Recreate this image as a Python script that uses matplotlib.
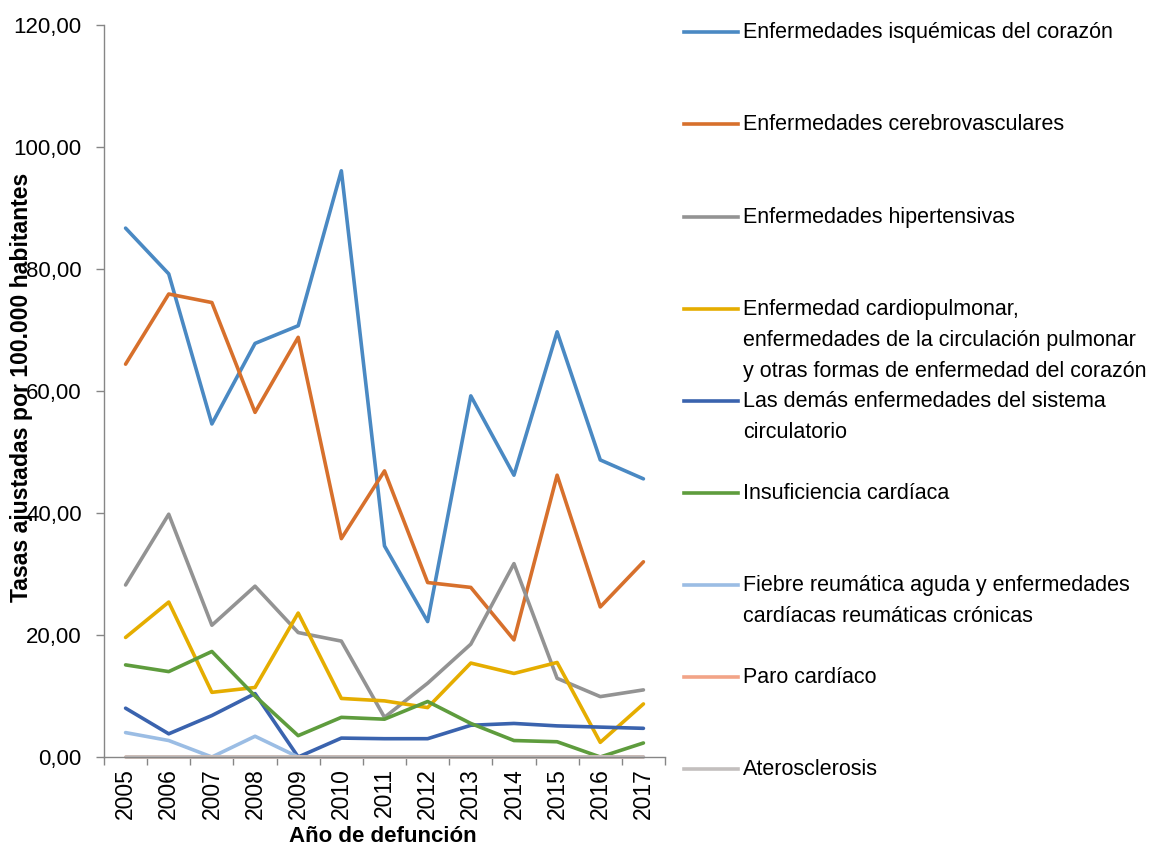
import matplotlib
matplotlib.use("Agg")
import matplotlib.pyplot as plt
from matplotlib import font_manager
from matplotlib.lines import Line2D
from matplotlib.ticker import FixedLocator, FuncFormatter

years = ["2005", "2006", "2007", "2008", "2009", "2010", "2011",
         "2012", "2013", "2014", "2015", "2016", "2017"]

series_names = [
    "Enfermedades isquémicas del corazón",
    "Enfermedades cerebrovasculares",
    "Enfermedades hipertensivas",
    "Enfermedad cardiopulmonar,\nenfermedades de la circulación pulmonar\ny otras formas de enfermedad del corazón",
    "Las demás enfermedades del sistema\ncirculatorio",
    "Insuficiencia cardíaca",
    "Fiebre reumática aguda y enfermedades\ncardíacas reumáticas crónicas",
    "Paro cardíaco",
    "Aterosclerosis",
]

isquemicas = [86.7, 79.2, 54.6, 67.8, 70.7, 96.1, 34.6, 22.2, 59.2, 46.2, 69.7, 48.7, 45.6]
cerebrovasculares = [64.4, 75.9, 74.5, 56.5, 68.8, 35.8, 46.9, 28.6, 27.8, 19.2, 46.2, 24.6, 32.0]
hipertensivas = [28.2, 39.8, 21.6, 28.0, 20.4, 19.0, 6.5, 12.1, 18.5, 31.7, 12.9, 9.9, 11.0]
cardiopulmonar = [19.6, 25.4, 10.6, 11.4, 23.6, 9.6, 9.2, 8.1, 15.4, 13.7, 15.5, 2.4, 8.7]
demas_circulatorio = [8.0, 3.8, 6.8, 10.4, 0.0, 3.1, 3.0, 3.0, 5.2, 5.5, 5.1, 4.9, 4.7]
insuficiencia = [15.1, 14.0, 17.3, 10.0, 3.5, 6.5, 6.2, 9.1, 5.5, 2.7, 2.5, 0.0, 2.3]
fiebre_reumatica = [4.0, 2.7, 0.0, 3.4, 0.0, 0.0, 0.0, 0.0, 0.0, 0.0, 0.0, 0.0, 0.0]
paro_cardiaco = [0.0] * 13
aterosclerosis = [0.0] * 13

all_series = [isquemicas, cerebrovasculares, hipertensivas, cardiopulmonar,
              demas_circulatorio, insuficiencia, fiebre_reumatica,
              paro_cardiaco, aterosclerosis]
colors = ["#4A89C3", "#D7702C", "#939393", "#E5AD00", "#3A63AE",
          "#5E9C3D", "#9BBDE4", "#F2A487", "#C3BFBE"]

y_ticks = [0, 20, 40, 60, 80, 100, 120]


def pick_font(cands):
    for c in cands:
        try:
            font_manager.findfont(c, fallback_to_default=False)
            return c
        except Exception:
            pass
    return "DejaVu Sans"


arial = pick_font(["Liberation Sans", "Arial"])
narrow = pick_font(["Liberation Sans Narrow", "Arial Narrow", "Liberation Sans"])

W, H = 1154, 848
fig = plt.figure(figsize=(W / 100, H / 100), dpi=100)
ax = fig.add_axes([104 / W, 1 - 757 / H, (665 - 104) / W, (757 - 25) / H])

x = list(range(len(years)))
for vals, col in zip(all_series, colors):
    ax.plot(x, vals, color=col, lw=2.6, solid_joinstyle="round",
            solid_capstyle="round", clip_on=False)

ax.set_xlim(-0.5, len(years) - 0.5)
ax.set_ylim(0, 120)
ax.set_yticks(y_ticks)
ax.yaxis.set_major_formatter(FuncFormatter(lambda v, p: f"{v:.2f}".replace(".", ",")))
ax.set_xticks(x)
ax.set_xticklabels(years, rotation=90)
ax.xaxis.set_minor_locator(FixedLocator([i - 0.5 for i in range(len(years) + 1)]))
ax.tick_params(axis="x", which="major", length=0, pad=8, labelsize=16.5)
ax.tick_params(axis="x", which="minor", length=6, color="#868686", width=1)
ax.tick_params(axis="y", length=6, color="#868686", width=1, labelsize=16, pad=10)
for lab in ax.get_xticklabels() + ax.get_yticklabels():
    lab.set_fontfamily(arial)

for s in ["top", "right"]:
    ax.spines[s].set_visible(False)
for s in ["left", "bottom"]:
    ax.spines[s].set_color("#868686")
    ax.spines[s].set_linewidth(1)

fig.text(383 / W, 1 - 836 / H, "Año de defunción", ha="center", va="center",
         fontsize=16, fontweight="bold", family=narrow)
fig.text(22 / W, 1 - 387 / H, "Tasas ajustadas por 100.000 habitantes", ha="center",
         va="center", rotation=90, fontsize=16.6, fontweight="bold", family=narrow)

# legend
y0 = 32.3
dy = 92.1
for i, (name, col) in enumerate(zip(series_names, colors)):
    yy = y0 + i * dy
    fig.add_artist(Line2D([684 / W, 738 / W], [1 - yy / H, 1 - yy / H],
                          color=col, lw=2.6, transform=fig.transFigure))
    fig.text(743 / W, 1 - (yy - 10) / H, name, ha="left", va="top",
             fontsize=15.5, family=narrow, linespacing=1.64)

fig.savefig("out.png", dpi=100)
